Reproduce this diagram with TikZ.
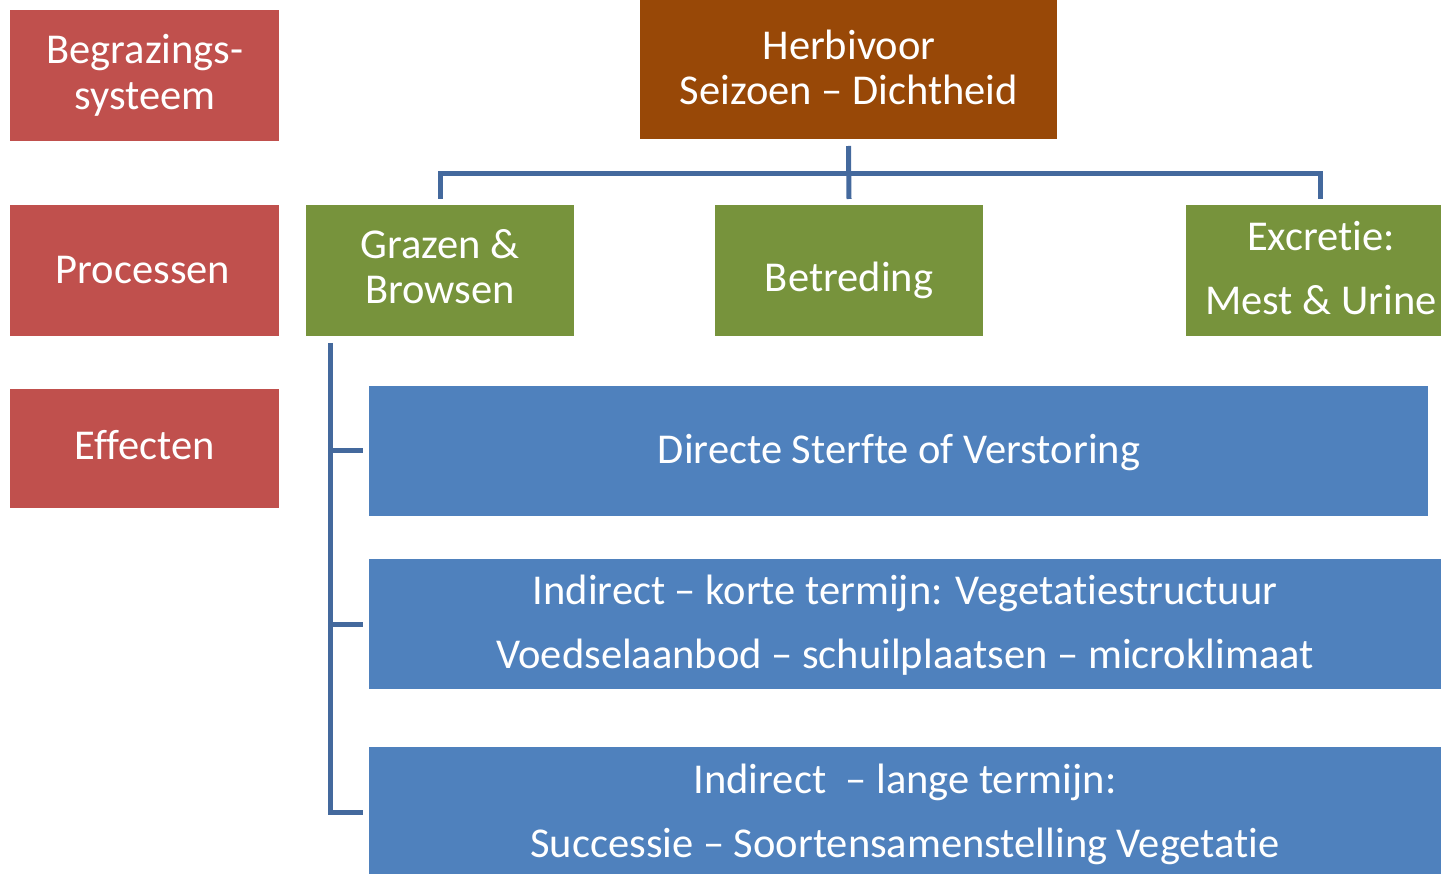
\documentclass[tikz,border=0pt]{standalone}
\usepackage{fontspec}
\setmainfont{Carlito}[Ligatures=NoCommon]
\definecolor{cred}{HTML}{C0504D}
\definecolor{cbrown}{HTML}{984807}
\definecolor{cgreen}{HTML}{77933C}
\definecolor{cblue}{HTML}{4F81BD}
\definecolor{cline}{HTML}{44699D}
\begin{document}
\begin{tikzpicture}[x=1pt,y=-1pt,
  box/.style={inner sep=0pt, outer sep=0pt, draw=none},
  txt/.style={text=white, inner sep=0pt, anchor=base, font=\fontsize{42.5}{50}\selectfont},
  conn/.style={draw=cline, line width=5pt}]
\clip (0,0) rectangle (1441,874);
\useasboundingbox (0,0) rectangle (1441,874);
% left column
\node[box, fill=cred, minimum width=269pt, minimum height=131pt] (r1) at (144.5,75.5) {};
\node[box, fill=cred, minimum width=269pt, minimum height=131pt] (r2) at (144.5,270.5) {};
\node[box, fill=cred, minimum width=269pt, minimum height=119pt] (r3) at (144.5,448.5) {};
\node[txt] (r1a) at (145,64) {Begrazings-};
\node[txt] (r1b) at (145,110) {systeem};
\node[txt] (r2a) at (143,283.5) {Processen};
\node[txt] (r3a) at (145,460) {Effecten};
% top
\node[box, fill=cbrown, minimum width=417pt, minimum height=139pt] (br) at (848.5,69.5) {};
\node[txt] (bra) at (849,60) {Herbivoor};
\node[txt] (brb) at (849,105) {Seizoen -- Dichtheid};
% processes
\node[box, fill=cgreen, minimum width=268pt, minimum height=131pt] (g1) at (440,270.5) {};
\node[box, fill=cgreen, minimum width=268pt, minimum height=131pt] (g2) at (849,270.5) {};
\node[box, fill=cgreen, minimum width=268pt, minimum height=131pt] (g3) at (1320,270.5) {};
\node[txt] (g1a) at (440,258.5) {Grazen \&};
\node[txt] (g1b) at (440,304) {Browsen};
\node[txt] (g2a) at (849,292) {Betreding};
\node[txt] (g3a) at (1321,251) {Excretie:};
\node[txt] (g3b) at (1321,315) {Mest \& Urine};
% effects
\node[box, fill=cblue, minimum width=1059pt, minimum height=130pt] (b1) at (898.5,451) {};
\node[box, fill=cblue, minimum width=1072pt, minimum height=130pt] (b2) at (905,624) {};
\node[box, fill=cblue, minimum width=1072pt, minimum height=130pt] (b3) at (905,812) {};
\node[txt] (b1a) at (899,463.5) {Directe Sterfte of Verstoring};
\node[txt] (b2a) at (905,604) {Indirect -- korte termijn: Vegetatiestructuur};
\node[txt] (b2b) at (905,668.5) {Voedselaanbod -- schuilplaatsen -- microklimaat};
\node[txt] (b3a) at (905,793) {Indirect\ \ -- lange termijn:};
\node[txt] (b3b) at (905,857.5) {Successie -- Soortensamenstelling Vegetatie};
% connectors
\draw[conn] ([yshift=-7pt]br.south) -- ([yshift=6pt]g2.north);
\draw[conn] ([yshift=6pt]g1.north) |- ([yshift=31.5pt]g2.north) -| ([yshift=6pt]g3.north);
\coordinate (ltop) at ([shift={(24.5pt,-7pt)}]g1.south west);
\draw[conn] (ltop) |- ([xshift=-6pt]b3.west);
\draw[conn] (ltop |- b1.west) -- ([xshift=-6pt]b1.west);
\draw[conn] (ltop |- b2.west) -- ([xshift=-6pt]b2.west);
\end{tikzpicture}
\end{document}
